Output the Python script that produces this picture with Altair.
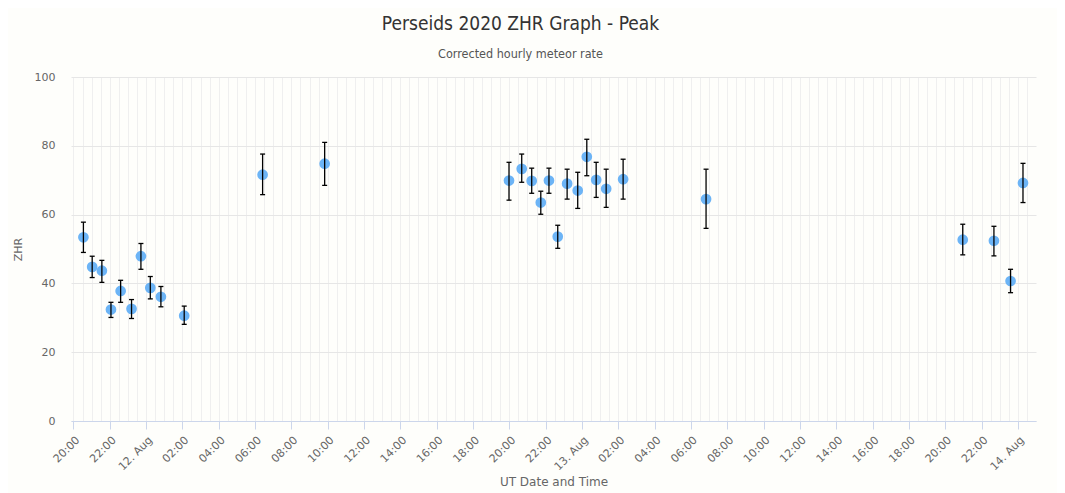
import altair as alt
import pandas as pd

times = [
    "2020-08-11T20:33:00Z", "2020-08-11T21:02:00Z", "2020-08-11T21:34:00Z", "2020-08-11T22:04:00Z",
    "2020-08-11T22:36:00Z", "2020-08-11T23:12:00Z", "2020-08-11T23:43:00Z", "2020-08-12T00:14:00Z",
    "2020-08-12T00:49:00Z", "2020-08-12T02:06:00Z", "2020-08-12T06:25:00Z", "2020-08-12T09:50:00Z",
    "2020-08-12T19:59:00Z", "2020-08-12T20:41:00Z", "2020-08-12T21:14:00Z", "2020-08-12T21:44:00Z",
    "2020-08-12T22:11:00Z", "2020-08-12T22:40:00Z", "2020-08-12T23:11:00Z", "2020-08-12T23:46:00Z",
    "2020-08-13T00:16:00Z", "2020-08-13T00:47:00Z", "2020-08-13T01:20:00Z", "2020-08-13T02:16:00Z",
    "2020-08-13T06:50:00Z", "2020-08-13T20:58:00Z", "2020-08-13T22:41:00Z", "2020-08-13T23:36:00Z",
    "2020-08-14T00:17:00Z",
]
zhr = [53.4, 44.8, 43.7, 32.4, 37.8, 32.6, 47.9, 38.7, 36.1, 30.6, 71.6, 74.8,
       69.9, 73.3, 69.8, 63.5, 69.9, 53.6, 69.0, 67.0, 76.8, 70.1, 67.5, 70.3,
       64.5, 52.7, 52.4, 40.7, 69.2]
zhr_low = [49.0, 41.7, 40.3, 30.1, 34.5, 29.8, 44.1, 35.5, 33.2, 28.1, 65.8, 68.5,
           64.2, 69.4, 66.2, 60.1, 66.2, 50.2, 64.5, 61.8, 71.3, 65.0, 62.1, 64.5,
           56.0, 48.3, 48.0, 37.3, 63.5]
zhr_high = [57.8, 47.9, 46.7, 34.5, 40.9, 35.3, 51.6, 42.0, 39.1, 33.4, 77.6, 81.0,
            75.2, 77.6, 73.5, 66.8, 73.5, 56.9, 73.2, 72.3, 81.9, 75.2, 73.2, 76.1,
            73.2, 57.2, 56.6, 44.1, 74.9]

# axis ticks / minor grid every 30 minutes (labels only every 2 hours)
tick_times = pd.date_range("2020-08-11 20:00", "2020-08-14 00:30", freq="30min", tz="UTC")
tick_values = [int(ts.value // 1_000_000) for ts in tick_times]

df = pd.DataFrame({"t": times, "zhr": zhr, "lo": zhr_low, "hi": zhr_high})

FONT = "DejaVu Sans"
TITLE_FONT = "Liberation Sans Narrow, DejaVu Sans Condensed, Roboto, sans-serif"
TXT = "#666666"
AXIS_BLUE = "#ccd6eb"

x_scale = alt.Scale(
    type="utc",
    domain=[
        alt.DateTime(year=2020, month=8, date=11, hours=19, minutes=52, utc=True),
        alt.DateTime(year=2020, month=8, date=14, hours=1, minutes=0, utc=True),
    ],
    nice=False,
)
y_scale = alt.Scale(domain=[0, 100], nice=False)

major_test = "utchours(datum.value) % 2 == 0 && utcminutes(datum.value) == 0"
label_expr = (
    "utcminutes(datum.value) != 0 || utchours(datum.value) % 2 != 0 ? '' : "
    "(utchours(datum.value) == 0 ? utcFormat(datum.value, '%-d. %b') : utcFormat(datum.value, '%H:%M'))"
)

x_axis = alt.Axis(
    grid=True, gridColor="#efefef", gridWidth=1,
    values=tick_values,
    labelExpr=label_expr, labelAngle=315, labelFont=FONT, labelFontSize=11,
    labelColor=TXT, labelPadding=5,
    tickColor=AXIS_BLUE, tickSize=8,
    tickOpacity={"condition": {"test": major_test, "value": 1}, "value": 0},
    domainColor=AXIS_BLUE,
    title="UT Date and Time", titleFont=FONT, titleFontSize=12,
    titleFontWeight="normal", titleColor=TXT, titleY=60, titleBaseline="middle",
    labelFlush=False, labelOverlap=False, labelBound=False,
)
y_axis = alt.Axis(
    values=[0, 20, 40, 60, 80, 100], grid=True, gridColor="#e6e6e6",
    domain=False, ticks=False, labelFont=FONT, labelFontSize=11,
    labelColor=TXT, labelPadding=16,
    title="ZHR", titleFont=FONT, titleFontSize=11, titleFontWeight="normal",
    titleColor=TXT, titleX=-53, titleBaseline="middle",
)

base = alt.Chart(df)
X = alt.X("t:T", scale=x_scale, axis=x_axis, title="UT Date and Time")

points = base.mark_circle(size=115, color="#6cb4f6", opacity=1).encode(
    x=X,
    y=alt.Y("zhr:Q", scale=y_scale, axis=y_axis, title="ZHR"),
)
rules = base.mark_rule(color="black", strokeWidth=1.3).encode(
    x=X,
    y=alt.Y("lo:Q", scale=y_scale, axis=y_axis, title="ZHR"),
    y2="hi:Q",
)
cap_lo = base.mark_tick(orient="horizontal", size=5, thickness=1.3, color="black", opacity=1).encode(
    x=X,
    y=alt.Y("lo:Q", scale=y_scale, axis=y_axis, title="ZHR"),
)
cap_hi = base.mark_tick(orient="horizontal", size=5, thickness=1.3, color="black", opacity=1).encode(
    x=X,
    y=alt.Y("hi:Q", scale=y_scale, axis=y_axis, title="ZHR"),
)

chart = (
    alt.layer(points, rules, cap_lo, cap_hi)
    .properties(
        width=965,
        height=344,
        background="#fefefb",
        autosize=alt.AutoSizeParams(type="none"),
        padding={"left": 63, "top": 69, "right": 21, "bottom": 72},
        title=alt.TitleParams(
            "Perseids 2020 ZHR Graph - Peak",
            subtitle="Corrected hourly meteor rate",
            font=TITLE_FONT,
            fontSize=19,
            fontWeight="normal",
            color="#333333",
            subtitleFont=TITLE_FONT,
            subtitleFontSize=12.5,
            subtitleColor="#555555",
            subtitlePadding=14,
            anchor="middle",
            dx=-33,
            offset=11,
        ),
    )
    .configure_view(stroke=None)
)

chart.save("out.html", embed_options={"renderer": "svg", "actions": False})
